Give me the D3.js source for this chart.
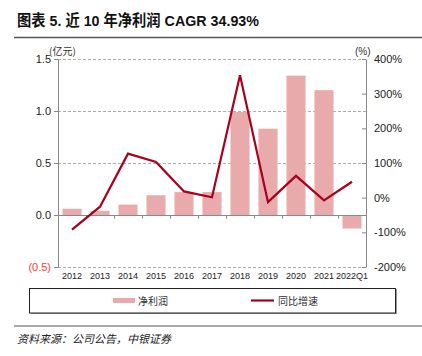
<!DOCTYPE html>
<html><head><meta charset="utf-8">
<script src="https://cdn.jsdelivr.net/npm/d3@7"></script>
<style>body{margin:0;background:#fff}svg{display:block}text{font-family:"Liberation Sans",Arial,sans-serif}</style>
</head><body>
<svg id="c" width="422" height="356"></svg>
<script>
const categories = ["2012","2013","2014","2015","2016","2017","2018","2019","2020","2021","2022Q1"];
const profit = [0.06,0.04,0.10,0.19,0.22,0.22,0.99,0.83,1.34,1.20,-0.13];
const growth = [-92,-26,127,103,18,1,353,-13,63,-8,46];
const leftTicks = [-0.5,0,0.5,1.0,1.5];
const rightTicks = [-200,-100,0,100,200,300,400];
const title = "图表 5. 近 10 年净利润 CAGR 34.93%";
const source = "资料来源：公司公告，中银证券";
const legendNames = ["净利润","同比增速"];

const svg = d3.select("#c");
const L=58, R=366, T=59, B=267;
const x = d3.scaleBand().domain(categories).range([L,R]).paddingInner(0.32).paddingOuter(0.16);
const yL = d3.scaleLinear().domain([-0.5,1.5]).range([B,T]);
const yR = d3.scaleLinear().domain([-200,400]).range([B,T]);
const barColor="#e8aaaa", lineColor="#a8001e";
const cjk = '"Noto Sans CJK SC",sans-serif';

// title
svg.append("text").attr("x",17).attr("y",26).attr("font-size",15.5).attr("font-weight","bold")
  .attr("textLength",242).attr("lengthAdjust","spacingAndGlyphs")
  .style("font-family",'"Liberation Sans","Noto Sans CJK SC",sans-serif').attr("fill","#111").text(title);
svg.append("line").attr("x1",14).attr("x2",422).attr("y1",37.5).attr("y2",37.5).attr("stroke","#555").attr("stroke-width",1.5);

// gridlines
svg.append("g").selectAll("line").data([-0.5,0.5,1.0,1.5]).join("line")
  .attr("x1",L).attr("x2",R).attr("y1",d=>Math.round(yL(d))+0.5).attr("y2",d=>Math.round(yL(d))+0.5)
  .attr("stroke","#999").attr("stroke-dasharray","3,2").attr("stroke-width",0.8);

// bars
svg.append("g").selectAll("rect").data(categories).join("rect")
  .attr("x",d=>x(d)).attr("width",x.bandwidth())
  .attr("y",(d,i)=>yL(Math.max(0,profit[i]))).attr("height",(d,i)=>Math.abs(yL(profit[i])-yL(0)))
  .attr("fill",barColor);

// zero axis with ticks at band boundaries
const z = Math.round(yL(0))+0.5;
svg.append("line").attr("x1",L).attr("x2",R).attr("y1",z).attr("y2",z).attr("stroke","#888").attr("stroke-width",1);
const step = x.step();
svg.append("g").selectAll("line").data(d3.range(1,categories.length)).join("line")
  .attr("x1",i=>Math.round(L+i*step)+0.5).attr("x2",i=>Math.round(L+i*step)+0.5)
  .attr("y1",z).attr("y2",z+3).attr("stroke","#888");

// left axis
const ga = svg.append("g").attr("transform",`translate(${L},0)`)
  .call(d3.axisLeft(yL).tickValues(leftTicks).tickSize(4).tickSizeOuter(0)
    .tickFormat(d=>d<0?`(${Math.abs(d).toFixed(1)})`:d.toFixed(1)));
ga.select(".domain").attr("stroke","#888");
ga.selectAll(".tick line").attr("stroke","#888");
ga.selectAll("text").attr("font-size",11).attr("fill",d=>d<0?"#ff3b3b":"#222").attr("x",-7);

// right axis
const gr = svg.append("g").attr("transform",`translate(${R},0)`)
  .call(d3.axisRight(yR).tickValues(rightTicks).tickSize(-4).tickSizeOuter(0).tickFormat(d=>d+"%"));
gr.select(".domain").attr("stroke","#888");
gr.selectAll(".tick line").attr("stroke","#888");
gr.selectAll("text").attr("font-size",11).attr("fill","#222").attr("x",8);

// x labels
svg.append("g").selectAll("text").data(categories).join("text")
  .attr("x",d=>x(d)+x.bandwidth()/2).attr("y",279).attr("text-anchor","middle")
  .attr("font-size",9).attr("fill","#222").text(d=>d);

// units
svg.append("text").attr("x",49).attr("y",55).attr("font-size",10).style("font-family",cjk).attr("fill","#333").text("(亿元)");
svg.append("text").attr("x",355).attr("y",55).attr("font-size",10).attr("fill","#333").text("(%)");

// line
svg.append("path").datum(growth)
  .attr("d",d3.line().x((d,i)=>x(categories[i])+x.bandwidth()/2).y(d=>yR(d)))
  .attr("fill","none").attr("stroke",lineColor).attr("stroke-width",2.2);

// legend
svg.append("rect").attr("x",31).attr("y",289).attr("width",366).attr("height",25).attr("fill","#999");
svg.append("rect").attr("x",29.5).attr("y",288.5).attr("width",366).attr("height",24.5).attr("fill","#fff").attr("stroke","#222").attr("stroke-width",1);
svg.append("rect").attr("x",113).attr("y",298).attr("width",22).attr("height",5).attr("fill",barColor);
svg.append("text").attr("x",138).attr("y",305).attr("font-size",10).style("font-family",cjk).attr("fill","#333").text(legendNames[0]);
svg.append("line").attr("x1",251).attr("x2",274).attr("y1",300.5).attr("y2",300.5).attr("stroke",lineColor).attr("stroke-width",2.2);
svg.append("text").attr("x",278).attr("y",305).attr("font-size",10).style("font-family",cjk).attr("fill","#333").text(legendNames[1]);

// bottom line and source
svg.append("line").attr("x1",14).attr("x2",422).attr("y1",326).attr("y2",326).attr("stroke","#555").attr("stroke-width",1.2);
svg.append("text").attr("x",17).attr("y",343).attr("font-size",11).attr("font-style","italic").style("font-family",cjk).attr("fill","#222").text(source);
</script>
</body></html>
